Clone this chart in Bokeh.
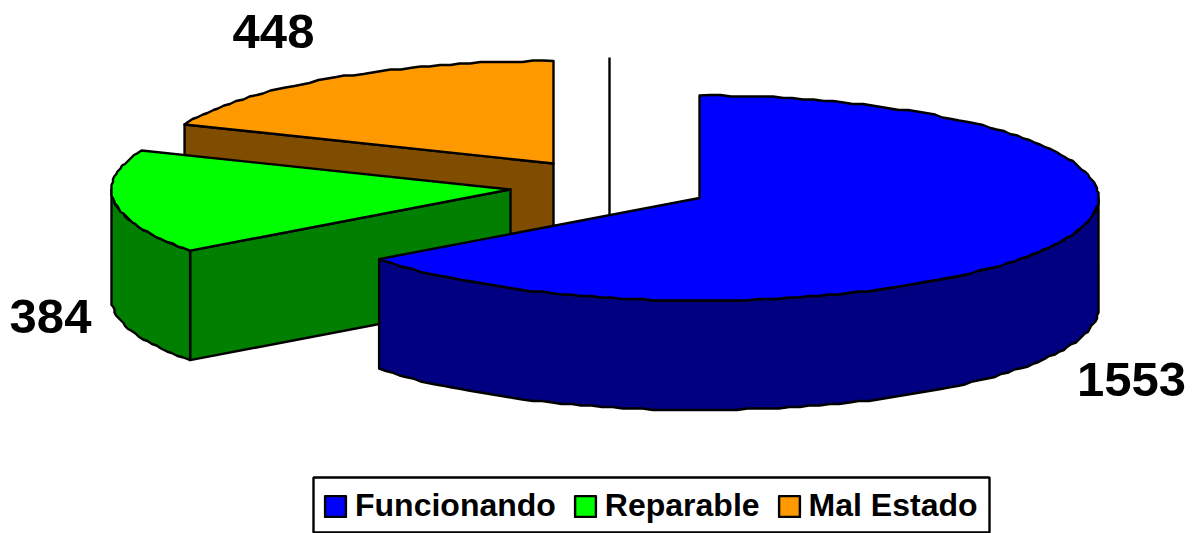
import numpy as np
from bokeh.plotting import figure
from bokeh.models import Legend, LegendItem, Range1d, BoxAnnotation
from bokeh.core.properties import value
from bokeh.embed import file_html
from bokeh.resources import INLINE

# --- data
categories = ["Funcionando", "Reparable", "Mal Estado"]
values = [1553, 384, 448]
top_colors = ["#0000FF", "#00FF00", "#FF9900"]
side_colors = ["#000080", "#007F00", "#7F4C00"]

# --- layout (page pixels)
centers = [(699, 197.5), (510, 189), (553, 163)]
RX, RY, DEPTH = 399, 102.5, 109.5
perspective_shift = [-1.0, 0.0, 0.0]   # slice-end shift of the tilted view, degrees
label_pos = [(1131, 379), (50, 316), (273, 31)]
FONT = "Liberation Sans"
GRID = 1.5   # the reference's curved edges are slightly stepped

p = figure(width=1196, height=533,
           x_range=Range1d(0, 1196), y_range=Range1d(533, 0),
           output_backend="svg", toolbar_location=None,
           min_border=0, outline_line_color=None, background_fill_color="white")
p.axis.visible = False
p.grid.visible = False

cum = np.cumsum(values) / sum(values) * 360
ends = [c + s for c, s in zip(cum, perspective_shift)]
starts = [0.0] + ends[:-1]


def rim(c, a0, a1):
    n = max(int(abs(a1 - a0) / 1.5), 1)
    t = np.radians(np.linspace(a0, a1, n + 1))
    x, y = c[0] + RX * np.sin(t), c[1] - RY * np.cos(t)
    x[1:-1] = np.round(x[1:-1] / GRID) * GRID
    y[1:-1] = np.round(y[1:-1] / GRID) * GRID
    return x, y


def poly(xs, ys, color):
    return p.patch(list(xs), list(ys), fill_color=color, line_color="black",
                   line_width=2.4, line_join="round")


def radial_wall(c, a, color):
    ex, ey = rim(c, a, a)
    ex, ey = ex[0], ey[0]
    poly([c[0], ex, ex, c[0]], [c[1], ey, ey + DEPTH, c[1] + DEPTH], color)


def outer_wall(c, a0, a1, color):
    x, y = rim(c, a0, a1)
    poly(np.r_[x, x[::-1]], np.r_[y, y[::-1] + DEPTH], color)


def top(c, a0, a1, color):
    x, y = rim(c, a0, a1)
    return poly(np.r_[c[0], x], np.r_[c[1], y], color)


# the thin vertical line behind the pie, ending on the blue slice's edge
p.line([609, 609], [57, 215], line_color="black", line_width=2.4)

# Mal Estado (back)
radial_wall(centers[2], starts[2], side_colors[2])
r_orange = top(centers[2], starts[2], ends[2], top_colors[2])

# Reparable
radial_wall(centers[1], starts[1], side_colors[1])
outer_wall(centers[1], starts[1], 270, side_colors[1])
r_green = top(centers[1], starts[1], ends[1], top_colors[1])

# Funcionando (front)
outer_wall(centers[0], 90, ends[0], side_colors[0])
r_blue = top(centers[0], starts[0], ends[0], top_colors[0])

p.text([q[0] for q in label_pos], [q[1] for q in label_pos],
       text=[str(v) for v in values], text_font=value(FONT), text_font_style="bold",
       text_font_size="49px", text_align="center", text_baseline="middle",
       text_color="black")

p.add_layout(BoxAnnotation(left=313, right=989, top=477, bottom=532,
                           fill_color="white", fill_alpha=1,
                           line_color="black", line_width=2.4, line_alpha=1))

legend = Legend(
    items=[LegendItem(label=n, renderers=[r])
           for n, r in zip(categories, [r_blue, r_green, r_orange])],
    orientation="horizontal", location=(322, 9),
    label_text_font=FONT, label_text_font_style="bold", label_text_font_size="32px",
    label_text_color="black", label_standoff=7, label_height=21,
    glyph_width=26, glyph_height=26, spacing=16, padding=0, margin=0,
    border_line_color=None, background_fill_alpha=0)
p.add_layout(legend, "center")

open("out.html", "w").write(file_html(p, INLINE))
